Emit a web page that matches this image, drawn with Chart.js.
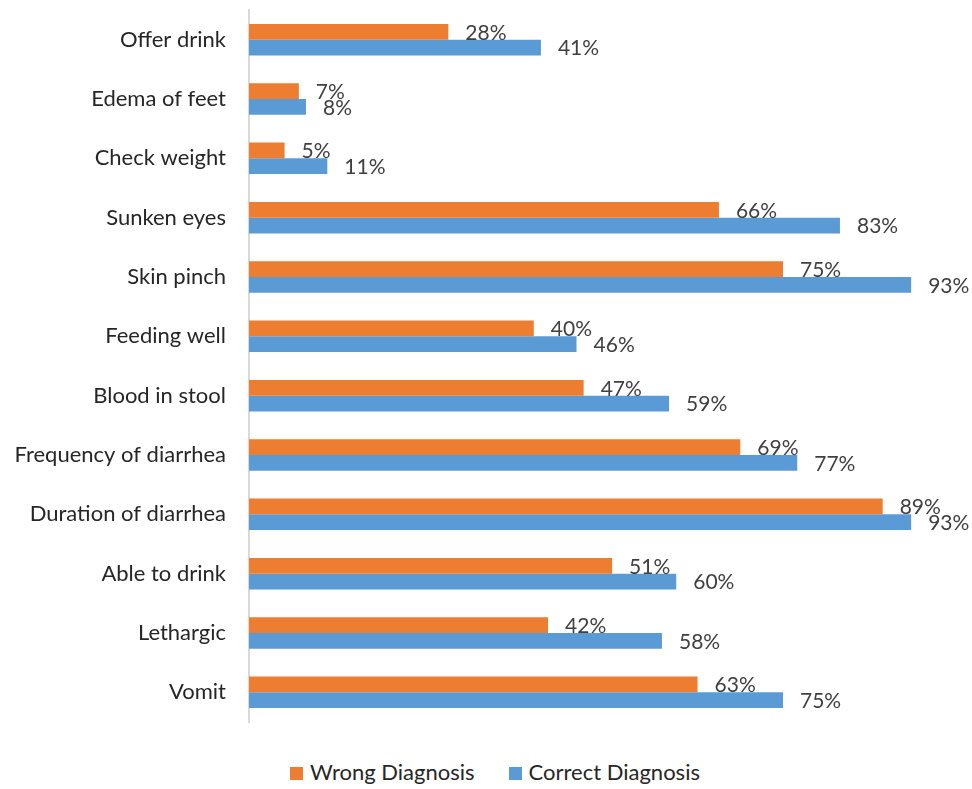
<!DOCTYPE html>
<html>
<head>
<meta charset="utf-8">
<script src="https://cdn.jsdelivr.net/npm/chart.js@4.4.0/dist/chart.umd.min.js"></script>
<style>
  html, body { margin: 0; padding: 0; background: #fff; }
  #wrap { width: 972px; height: 789px; position: relative; }
  #legend { position: absolute; top: 758px; left: 0; width: 972px; text-align: center;
    font-family: Lato, sans-serif; font-size: 22px; color: #262626; padding-left: 18px; box-sizing: border-box; }
  #legend span.item { display: inline-block; margin: 0 17px; }
  #legend span.box { display: inline-block; width: 13px; height: 13px; margin-right: 7px; vertical-align: 0px; }
</style>
</head>
<body>
<div id="wrap">
  <canvas id="diagnosisChart" width="972" height="750"></canvas>
  <div id="legend"></div>
</div>
<script>
// categories, top to bottom
var categories = ["Offer drink", "Edema of feet", "Check weight", "Sunken eyes", "Skin pinch",
  "Feeding well", "Blood in stool", "Frequency of diarrhea", "Duration of diarrhea",
  "Able to drink", "Lethargic", "Vomit"];

// percent of cases where the sign was checked
var wrongDiagnosis = [28, 7, 5, 66, 75, 40, 47, 69, 89, 51, 42, 63];
var correctDiagnosis = [41, 8, 11, 83, 93, 46, 59, 77, 93, 60, 58, 75];

var seriesNames = ["Wrong Diagnosis", "Correct Diagnosis"];
var seriesColors = ["#ED7D31", "#5B9BD5"];

// draws the "NN%" text at the end of each bar
var barLabels = {
  id: "barLabels",
  afterDatasetsDraw: function(chart) {
    let ctx = chart.ctx;
    ctx.save();
    ctx.font = "21px Lato";
    ctx.fillStyle = "#404040";
    ctx.textAlign = "left";
    ctx.textBaseline = "middle";
    chart.data.datasets.forEach(function(ds, i) {
      let meta = chart.getDatasetMeta(i);
      meta.data.forEach(function(bar, j) {
        ctx.fillText(ds.data[j] + "%", bar.x + 17, bar.y + 1);
      });
    });
    ctx.restore();
  }
};

let ctx = document.getElementById("diagnosisChart").getContext("2d");

let chart = new Chart(ctx, {
  type: "bar",
  data: {
    labels: categories,
    datasets: [{
      label: seriesNames[0],
      data: wrongDiagnosis,
      backgroundColor: seriesColors[0],
      borderWidth: 0
    }, {
      label: seriesNames[1],
      data: correctDiagnosis,
      backgroundColor: seriesColors[1],
      borderWidth: 0
    }]
  },
  options: {
    indexAxis: "y",
    responsive: false,
    animation: false,
    datasets: {
      bar: { categoryPercentage: 0.53, barPercentage: 1 }
    },
    layout: {
      padding: { top: 10, right: 11, left: 0, bottom: 28 }
    },
    scales: {
      x: {
        display: false,
        min: 0,
        max: 100
      },
      y: {
        // invisible tick marks only push the labels away from the axis
        grid: { display: true, drawOnChartArea: false, color: "rgba(0,0,0,0)", tickLength: 23 },
        border: { display: true, color: "#d9d9d9", width: 2 },
        afterFit: function(scale) { scale.width = 249; },
        ticks: {
          padding: 0,
          color: "#262626",
          font: { family: "Lato", size: 22, lineHeight: 0.9 }
        }
      }
    },
    plugins: {
      legend: { display: false },
      tooltip: { enabled: false }
    }
  },
  plugins: [barLabels]
});

// legend below the chart
let legend = document.getElementById("legend");
chart.data.datasets.forEach(function(ds) {
  let item = document.createElement("span");
  item.className = "item";
  let box = document.createElement("span");
  box.className = "box";
  box.style.background = ds.backgroundColor;
  item.appendChild(box);
  item.appendChild(document.createTextNode(ds.label));
  legend.appendChild(item);
});
</script>
</body>
</html>
